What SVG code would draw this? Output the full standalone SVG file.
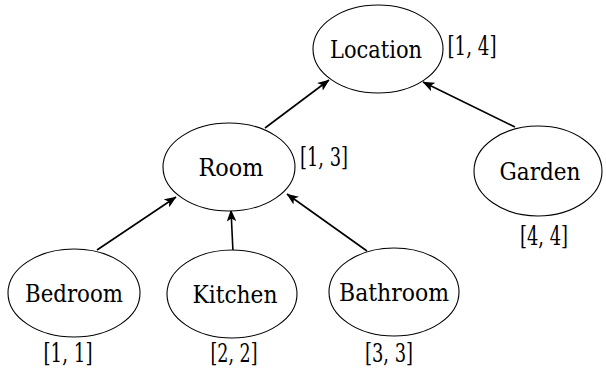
<svg xmlns="http://www.w3.org/2000/svg" width="606" height="375" viewBox="0 0 606 375">
  <style>
    .node ellipse { fill: #ffffff; stroke: #000000; stroke-width: 1.1; }
    text { font-family: "DejaVu Serif", serif; font-size: 24px; fill: #000000; text-anchor: middle; }
    #tags text { font-size: 26px; }
    .edge { stroke: #000000; stroke-width: 1.6; fill: none; marker-end: url(#arrow); }
  </style>
  <defs>
    <marker id="arrow" viewBox="0 0 10 8" refX="9.5" refY="4" markerWidth="7.5" markerHeight="6" markerUnits="strokeWidth" orient="auto">
      <path d="M0,0 L10,4 L0,8 L2.5,4 Z" fill="#000000"/>
    </marker>
  </defs>

  <!-- connectors: child to parent -->
  <g id="edges">
    <path class="edge" d="M265,128 L329,80"/>
    <path class="edge" d="M515,127 L423,82"/>
    <path class="edge" d="M97,250 L176,197"/>
    <path class="edge" d="M233,252 L231,210"/>
    <path class="edge" d="M367,251 L287,194"/>
  </g>

  <g id="location" class="node">
    <ellipse cx="378" cy="49" rx="65" ry="44"/>
    <text x="376" y="58" textLength="92" lengthAdjust="spacingAndGlyphs">Location</text>
  </g>
  <g id="room" class="node">
    <ellipse cx="229" cy="167" rx="66" ry="44"/>
    <text x="231" y="176" textLength="65" lengthAdjust="spacingAndGlyphs">Room</text>
  </g>
  <g id="garden" class="node">
    <ellipse cx="538" cy="171" rx="64" ry="45"/>
    <text x="540" y="180" textLength="81" lengthAdjust="spacingAndGlyphs">Garden</text>
  </g>
  <g id="bedroom" class="node">
    <ellipse cx="74" cy="293" rx="66" ry="44"/>
    <text x="74" y="302" textLength="98" lengthAdjust="spacingAndGlyphs">Bedroom</text>
  </g>
  <g id="kitchen" class="node">
    <ellipse cx="232" cy="294" rx="65" ry="44"/>
    <text x="235" y="303" textLength="85" lengthAdjust="spacingAndGlyphs">Kitchen</text>
  </g>
  <g id="bathroom" class="node">
    <ellipse cx="394" cy="292" rx="65" ry="44"/>
    <text x="394" y="301" textLength="110" lengthAdjust="spacingAndGlyphs">Bathroom</text>
  </g>

  <!-- interval tags -->
  <g id="tags">
    <text x="472" y="55" textLength="49" lengthAdjust="spacingAndGlyphs">[1, 4]</text>
    <text x="324" y="166" textLength="48" lengthAdjust="spacingAndGlyphs">[1, 3]</text>
    <text x="544" y="245" textLength="48" lengthAdjust="spacingAndGlyphs">[4, 4]</text>
    <text x="68" y="362" textLength="49" lengthAdjust="spacingAndGlyphs">[1, 1]</text>
    <text x="234" y="362" textLength="47" lengthAdjust="spacingAndGlyphs">[2, 2]</text>
    <text x="389" y="362" textLength="48" lengthAdjust="spacingAndGlyphs">[3, 3]</text>
  </g>
</svg>
